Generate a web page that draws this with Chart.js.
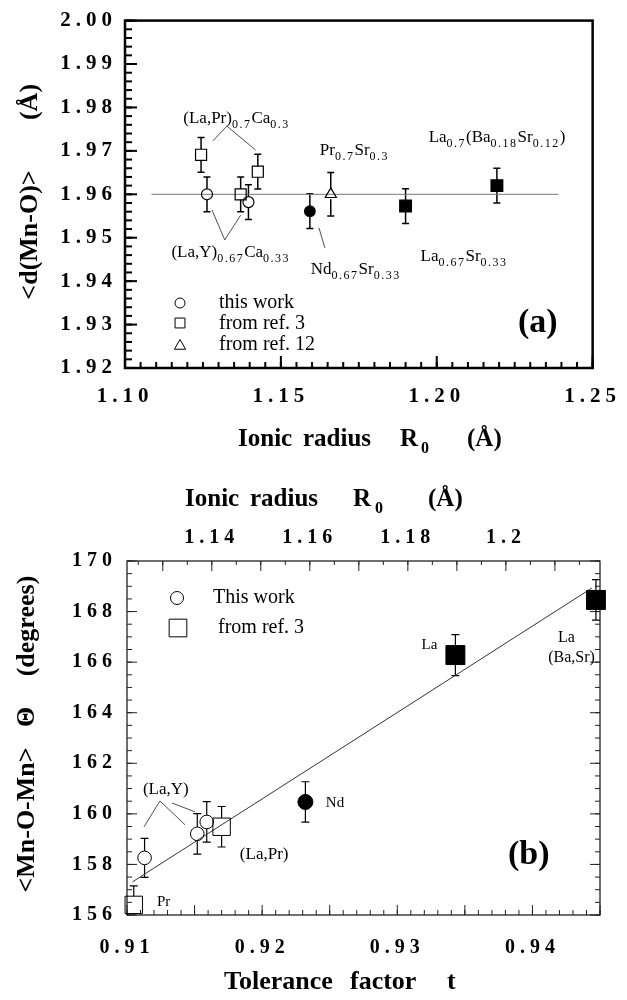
<!DOCTYPE html>
<html>
<head>
<meta charset="utf-8">
<script src="https://cdn.jsdelivr.net/npm/chart.js@4.4.1/dist/chart.umd.min.js"></script>
<style>
  html, body { margin: 0; padding: 0; background: #fff; }
  #wrap { position: relative; width: 627px; height: 1000px; }
  canvas { position: absolute; left: 0; }
  #chart-a { top: 0; }
  #chart-b { top: 470px; }
</style>
</head>
<body>
<div id="wrap">
  <canvas id="chart-a" width="627" height="470"></canvas>
  <canvas id="chart-b" width="627" height="530"></canvas>
</div>
<script>
/* ── DATA (a): <d(Mn-O)> vs ionic radius R0 ── */
const aRadiusTicks  = [1.10, 1.15, 1.20, 1.25];
const aRadiusLabels = ['1.10', '1.15', '1.20', '1.25'];
const aDistTicks    = [1.92, 1.93, 1.94, 1.95, 1.96, 1.97, 1.98, 1.99, 2.00];
const aDistLabels   = ['1.92', '1.93', '1.94', '1.95', '1.96', '1.97', '1.98', '1.99', '2.00'];

const aWorkR   = [1.1263, 1.1396];          // open circles, this work
const aWorkD   = [1.9600, 1.9582];
const aWorkErr = [0.004, 0.004];
const aRef3R   = [1.1244, 1.1371, 1.1426];  // open squares, ref. 3
const aRef3D   = [1.9691, 1.9600, 1.9652];
const aRef3Err = [0.004, 0.004, 0.004];
const aRef12R  = [1.1660];                  // open triangle, ref. 12
const aRef12D  = [1.9600];
const aRef12Err = [0.005];
const aNdR   = [1.1593];                    // filled circle
const aNdD   = [1.9561];
const aNdErr = [0.004];
const aLaR   = [1.1900, 1.2193];            // filled squares
const aLaD   = [1.9573, 1.9620];
const aLaErr = [0.004, 0.004];
const aMeanR = [1.1085, 1.2390];            // constant level
const aMeanD = [1.9600, 1.9600];

/* ── DATA (b): <Mn-O-Mn> vs tolerance factor ── */
const bTolTicks     = [0.91, 0.92, 0.93, 0.94];
const bTolLabels    = ['0.91', '0.92', '0.93', '0.94'];
const bRadiusTicks  = [1.14, 1.16, 1.18, 1.20];
const bRadiusLabels = ['1.14', '1.16', '1.18', '1.2'];
const bAngleTicks   = [156, 158, 160, 162, 164, 166, 168, 170];
const bAngleLabels  = ['156', '158', '160', '162', '164', '166', '168', '170'];

const bWorkT   = [0.9113, 0.9152, 0.9159];  // open circles
const bWorkA   = [158.26, 159.21, 159.68];
const bWorkErr = [0.77, 0.80, 0.80];
const bRef3T   = [0.9105, 0.9170];          // open squares
const bRef3A   = [156.40, 159.49];
const bRef3Err = [0.75, 0.80];
const bNdT   = [0.9232];                    // filled circle
const bNdA   = [160.47];
const bNdErr = [0.80];
const bLaT   = [0.9343, 0.9447];            // filled squares
const bLaA   = [166.28, 168.46];
const bLaErr = [0.81, 0.80];
const bFitT  = [0.9104, 0.9444];            // linear fit
const bFitA  = [157.31, 168.93];

/* ── ANNOTATIONS (anchored in data coords) ── */
const aNotes = [
  { x: 1.1187, y: 1.9775, parts: [['(La,Pr)'], ['0.7', 's'], ['Ca'], ['0.3', 's']] },
  { x: 1.1149, y: 1.9466, parts: [['(La,Y)'], ['0.67', 's'], ['Ca'], ['0.33', 's']] },
  { x: 1.1625, y: 1.9700, parts: [['Pr'], ['0.7', 's'], ['Sr'], ['0.3', 's']] },
  { x: 1.1974, y: 1.9730, parts: [['La'], ['0.7', 's'], ['(Ba'], ['0.18', 's'], ['Sr'], ['0.12', 's'], [')']] },
  { x: 1.1596, y: 1.9427, parts: [['Nd'], ['0.67', 's'], ['Sr'], ['0.33', 's']] },
  { x: 1.1948, y: 1.9457, parts: [['La'], ['0.67', 's'], ['Sr'], ['0.33', 's']] }
];
const aLeaders = [
  [1.1327, 1.9757, 1.1282, 1.9723],
  [1.1327, 1.9757, 1.1419, 1.9702],
  [1.1320, 1.9495, 1.1279, 1.9564],
  [1.1320, 1.9495, 1.1371, 1.9552],
  [1.1622, 1.9523, 1.1641, 1.9477]
];
const bNotes = [
  { x: 0.91118, y: 160.95, text: '(La,Y)', size: 17 },
  { x: 0.91835, y: 158.38, text: '(La,Pr)', size: 17 },
  { x: 0.91222, y: 156.52, text: 'Pr', size: 15 },
  { x: 0.92471, y: 160.43, text: 'Nd', size: 15 },
  { x: 0.93180, y: 166.68, text: 'La', size: 15 },
  { x: 0.94252, y: 166.96, text: 'La', size: 16, center: true },
  { x: 0.94289, y: 166.17, text: '(Ba,Sr)', size: 16, center: true }
];
const bLeaders = [
  [0.91244, 160.51, 0.91126, 159.49],
  [0.91244, 160.51, 0.91429, 159.57],
  [0.91333, 160.43, 0.91503, 160.08]
];

const FONT = "'Liberation Serif', 'Times New Roman', serif";
const pairs = (xs, ys) => xs.map((x, i) => ({ x, y: ys[i] }));
const fixTicks = list => scale => { scale.ticks = list.map(v => ({ value: v })); };
const tickFont = size => ({ family: FONT, size, weight: 'bold' });
const noGrid = { display: false, drawTicks: false };

/* ── HELPERS ── */
function richText(ctx, x, y, parts, size) {
  let cx = x;
  parts.forEach(([txt, kind]) => {
    const sub = kind === 's';
    ctx.font = `${sub ? Math.round(size * 0.7) : size}px ${FONT}`;
    ctx.letterSpacing = sub ? '1.5px' : '0px';
    ctx.fillText(txt, cx, sub ? y + size * 0.38 : y);
    cx += ctx.measureText(txt).width;
  });
  ctx.letterSpacing = '0px';
}
function words(ctx, y, list, size) {
  list.forEach(([txt, x, sub]) => {
    ctx.font = `bold ${sub ? Math.round(size * 0.62) : size}px ${FONT}`;
    ctx.fillText(txt, x, sub ? y + size * 0.35 : y);
  });
}
function vtitle(ctx, x, list, size) {
  ctx.save();
  ctx.translate(x, 0);
  ctx.rotate(-Math.PI / 2);
  ctx.textAlign = 'center';
  ctx.font = `bold ${size}px ${FONT}`;
  list.forEach(([txt, y]) => ctx.fillText(txt, -y, 0));
  ctx.restore();
}
function drawLeaders(ctx, chart, list, xId, yId) {
  const xs = chart.scales[xId], ys = chart.scales[yId];
  ctx.strokeStyle = '#222'; ctx.lineWidth = 0.8;
  list.forEach(([x1, y1, x2, y2]) => {
    ctx.beginPath();
    ctx.moveTo(xs.getPixelForValue(x1), ys.getPixelForValue(y1));
    ctx.lineTo(xs.getPixelForValue(x2), ys.getPixelForValue(y2));
    ctx.stroke();
  });
}

/* ── FRAME + INWARD TICKS + ERROR BARS ── */
const framePlugin = {
  id: 'frame',
  beforeDraw(chart, args, o) { chart.ctx.letterSpacing = o.spacing + 'px'; },
  beforeDatasetsDraw(chart, args, o) {
    const ctx = chart.ctx, a = chart.chartArea;
    ctx.letterSpacing = '0px';
    ctx.save();
    ctx.strokeStyle = o.color;
    ctx.lineWidth = o.tickWidth;
    o.marks.forEach(m => {
      const s = chart.scales[m.scale];
      const k0 = Math.ceil(s.min / m.step - 1e-6), k1 = Math.floor(s.max / m.step + 1e-6);
      for (let k = k0; k <= k1; k++) {
        const p = s.getPixelForValue(k * m.step);
        ctx.beginPath();
        if (m.side === 'left')   { ctx.moveTo(a.left, p);   ctx.lineTo(a.left + m.len, p); }
        if (m.side === 'right')  { ctx.moveTo(a.right, p);  ctx.lineTo(a.right - m.len, p); }
        if (m.side === 'bottom') { ctx.moveTo(p, a.bottom); ctx.lineTo(p, a.bottom - m.len); }
        if (m.side === 'top')    { ctx.moveTo(p, a.top);    ctx.lineTo(p, a.top + m.len); }
        ctx.stroke();
      }
    });
    ctx.lineWidth = o.width;
    ctx.strokeRect(a.left, a.top, a.right - a.left, a.bottom - a.top);
    // error bars, kept inside the plot frame
    ctx.beginPath();
    ctx.rect(a.left - 20, a.top, a.right - a.left + 40, a.bottom - a.top);
    ctx.clip();
    ctx.strokeStyle = '#000';
    ctx.lineWidth = o.barWidth;
    chart.data.datasets.forEach((ds, i) => {
      if (!ds.errors) return;
      const ys = chart.scales.y;
      chart.getDatasetMeta(i).data.forEach((pt, j) => {
        const v = ds.data[j].y, e = ds.errors[j];
        const top = ys.getPixelForValue(v + e), bot = ys.getPixelForValue(v - e);
        const g = ds.barGap || 0, c = o.cap / 2;
        ctx.beginPath();
        ctx.moveTo(pt.x, top); ctx.lineTo(pt.x, pt.y - g);
        ctx.moveTo(pt.x, pt.y + g); ctx.lineTo(pt.x, bot);
        ctx.moveTo(pt.x - c, top); ctx.lineTo(pt.x + c, top);
        ctx.moveTo(pt.x - c, bot); ctx.lineTo(pt.x + c, bot);
        ctx.stroke();
      });
    });
    ctx.restore();
  }
};

const markerA = (style, r, fill, gap) => ({
  pointStyle: style, pointRadius: r, pointHoverRadius: r, borderColor: '#000', borderWidth: 1.2,
  pointBackgroundColor: fill ? '#000' : 'rgba(0,0,0,0)', pointBorderColor: '#000', pointBorderWidth: 1.2,
  barGap: gap
});

/* ── CHART (a) ── */
new Chart(document.getElementById('chart-a'), {
  type: 'scatter',
  data: {
    datasets: [
      { data: pairs(aMeanR, aMeanD), showLine: true, borderColor: '#777', borderWidth: 1, pointRadius: 0, order: 1 },
      { data: pairs(aWorkR, aWorkD), errors: aWorkErr, ...markerA('circle', 5.5, false, 5.5), order: 0 },
      { data: pairs(aRef3R, aRef3D), errors: aRef3Err, ...markerA('rect', 7.8, false, 5.5), order: 0 },
      { data: pairs(aRef12R, aRef12D), errors: aRef12Err, ...markerA('triangle', 6.4, false, 5), order: 0 },
      { data: pairs(aNdR, aNdD), errors: aNdErr, ...markerA('circle', 5.3, true, 0), order: 0 },
      { data: pairs(aLaR, aLaD), errors: aLaErr, ...markerA('rect', 8.3, true, 0), order: 0 }
    ]
  },
  options: {
    responsive: false, animation: false, clip: false,
    layout: { autoPadding: false, padding: { left: 0, right: 29, top: 16, bottom: 0 } },
    plugins: {
      legend: { display: false }, tooltip: { enabled: false },
      frame: {
        color: '#000', width: 2.5, tickWidth: 2, barWidth: 1.5, cap: 7, spacing: 5,
        marks: [
          { scale: 'y', side: 'left', step: 0.01, len: 12 },
          { scale: 'y', side: 'left', step: 0.002, len: 7 },
          { scale: 'x', side: 'bottom', step: 0.05, len: 12 },
          { scale: 'x', side: 'bottom', step: 0.005, len: 6 }
        ]
      }
    },
    scales: {
      x: {
        type: 'linear', min: 1.10, max: 1.25,
        afterBuildTicks: fixTicks(aRadiusTicks), afterFit: s => { s.height = 102; },
        grid: noGrid, border: { display: false },
        ticks: { font: tickFont(21), color: '#000', padding: 16, maxRotation: 0, autoSkip: false,
                 callback: (v, i) => aRadiusLabels[i] }
      },
      y: {
        type: 'linear', min: 1.92, max: 2.00,
        afterBuildTicks: fixTicks(aDistTicks), afterFit: s => { s.width = 125; },
        grid: noGrid, border: { display: false },
        ticks: { font: tickFont(21), color: '#000', padding: 8, autoSkip: false,
                 callback: (v, i) => aDistLabels[i] }
      }
    }
  },
  plugins: [framePlugin, {
    id: 'textA',
    afterDraw(chart) {
      const ctx = chart.ctx, xs = chart.scales.x, ys = chart.scales.y;
      ctx.save();
      ctx.fillStyle = '#000';
      ctx.textBaseline = 'middle';
      ctx.textAlign = 'left';
      drawLeaders(ctx, chart, aLeaders, 'x', 'y');
      aNotes.forEach(n => richText(ctx, xs.getPixelForValue(n.x), ys.getPixelForValue(n.y), n.parts, 17));
      // legend
      const H = Chart.helpers;
      ctx.lineWidth = 1; ctx.strokeStyle = '#000'; ctx.fillStyle = 'rgba(0,0,0,0)';
      H.drawPoint(ctx, { pointStyle: 'circle', radius: 5, borderWidth: 1, rotation: 0 }, 180, 303);
      H.drawPoint(ctx, { pointStyle: 'rect', radius: 7, borderWidth: 1, rotation: 0 }, 180, 323);
      H.drawPoint(ctx, { pointStyle: 'triangle', radius: 6.5, borderWidth: 1, rotation: 0 }, 180, 346);
      ctx.fillStyle = '#000';
      ctx.font = `20px ${FONT}`;
      ctx.fillText('this work', 219, 303);
      ctx.fillText('from ref. 3', 219, 324);
      ctx.fillText('from ref. 12', 219, 345);
      ctx.font = `bold 34px ${FONT}`;
      ctx.fillText('(a)', 518, 323);
      // axis titles
      words(ctx, 440, [['Ionic', 238], ['radius', 303], ['R', 400], ['0', 421, true], ['(Å)', 467]], 25);
      vtitle(ctx, 30, [['<d(Mn-O)>', 235], ['(Å)', 102]], 26);
      ctx.restore();
    }
  }]
});

/* ── CHART (b) ── */
const markerB = (style, r, fill, gap) => ({
  pointStyle: style, pointRadius: r, pointHoverRadius: r,
  pointBackgroundColor: fill ? '#000' : 'rgba(0,0,0,0)', pointBorderColor: '#000', pointBorderWidth: 1,
  barGap: gap
});

new Chart(document.getElementById('chart-b'), {
  type: 'scatter',
  data: {
    datasets: [
      { data: pairs(bFitT, bFitA), showLine: true, borderColor: '#333', borderWidth: 1, pointRadius: 0, order: 1 },
      { data: pairs(bWorkT, bWorkA), errors: bWorkErr, ...markerB('circle', 6.8, false, 6.8), order: 0 },
      { data: pairs(bRef3T, bRef3A), errors: bRef3Err, ...markerB('rect', 12.3, false, 8.7), order: 0 },
      { data: pairs(bNdT, bNdA), errors: bNdErr, ...markerB('circle', 7.5, true, 0), order: 0 },
      { data: pairs(bLaT, bLaA), errors: bLaErr, ...markerB('rect', 13.4, true, 0), order: 0 }
    ]
  },
  options: {
    responsive: false, animation: false, clip: false,
    layout: { autoPadding: false, padding: { left: 0, right: 27, top: 0, bottom: 0 } },
    plugins: {
      legend: { display: false }, tooltip: { enabled: false },
      frame: {
        color: '#222', width: 1.3, tickWidth: 1, barWidth: 1.2, cap: 8, spacing: 5,
        marks: [
          { scale: 'y', side: 'left', step: 2, len: 10 },
          { scale: 'y', side: 'left', step: 0.5, len: 5 },
          { scale: 'y', side: 'right', step: 2, len: 10 },
          { scale: 'y', side: 'right', step: 0.5, len: 5 },
          { scale: 'x', side: 'bottom', step: 0.005, len: 10 },
          { scale: 'x', side: 'bottom', step: 0.001, len: 5 },
          { scale: 'x2', side: 'top', step: 0.01, len: 10 },
          { scale: 'x2', side: 'top', step: 0.005, len: 4 }
        ]
      }
    },
    scales: {
      x: {
        type: 'linear', position: 'bottom', min: 0.91, max: 0.945,
        afterBuildTicks: fixTicks(bTolTicks), afterFit: s => { s.height = 85; },
        grid: noGrid, border: { display: false },
        ticks: { font: tickFont(20), color: '#000', padding: 21, maxRotation: 0, autoSkip: false,
                 callback: (v, i) => bTolLabels[i] }
      },
      x2: {
        type: 'linear', position: 'top', min: 1.1227, max: 1.2192,
        afterBuildTicks: fixTicks(bRadiusTicks), afterFit: s => { s.height = 91; },
        grid: noGrid, border: { display: false },
        ticks: { font: tickFont(20), color: '#000', padding: 11, maxRotation: 0, autoSkip: false,
                 callback: (v, i) => bRadiusLabels[i] }
      },
      y: {
        type: 'linear', min: 156, max: 170,
        afterBuildTicks: fixTicks(bAngleTicks), afterFit: s => { s.width = 127; },
        grid: noGrid, border: { display: false },
        ticks: { font: tickFont(20), color: '#000', padding: 10, autoSkip: false,
                 callback: (v, i) => bAngleLabels[i] }
      }
    }
  },
  plugins: [framePlugin, {
    id: 'textB',
    afterDraw(chart) {
      const ctx = chart.ctx, xs = chart.scales.x, ys = chart.scales.y;
      ctx.save();
      ctx.fillStyle = '#000';
      ctx.textBaseline = 'middle';
      drawLeaders(ctx, chart, bLeaders, 'x', 'y');
      bNotes.forEach(n => {
        ctx.font = `${n.size}px ${FONT}`;
        ctx.textAlign = n.center ? 'center' : 'left';
        ctx.fillText(n.text, xs.getPixelForValue(n.x), ys.getPixelForValue(n.y));
      });
      ctx.textAlign = 'left';
      // legend
      const H = Chart.helpers;
      ctx.lineWidth = 1; ctx.strokeStyle = '#000'; ctx.fillStyle = 'rgba(0,0,0,0)';
      H.drawPoint(ctx, { pointStyle: 'circle', radius: 6.5, borderWidth: 1, rotation: 0 }, 177, 128);
      H.drawPoint(ctx, { pointStyle: 'rect', radius: 12.5, borderWidth: 1, rotation: 0 }, 178, 158);
      ctx.fillStyle = '#000';
      ctx.font = `20px ${FONT}`;
      ctx.fillText('This work', 213, 128);
      ctx.fillText('from ref. 3', 218, 158);
      ctx.font = `bold 34px ${FONT}`;
      ctx.fillText('(b)', 508, 385);
      // axis titles
      words(ctx, 30, [['Ionic', 185], ['radius', 250], ['R', 353], ['0', 375, true], ['(Å)', 428]], 25);
      words(ctx, 512, [['Tolerance', 224], ['factor', 350], ['t', 447]], 26);
      vtitle(ctx, 27, [['<Mn-O-Mn>', 350], ['Θ', 247], ['(degrees)', 156]], 26);
      ctx.restore();
    }
  }]
});
</script>
</body>
</html>
